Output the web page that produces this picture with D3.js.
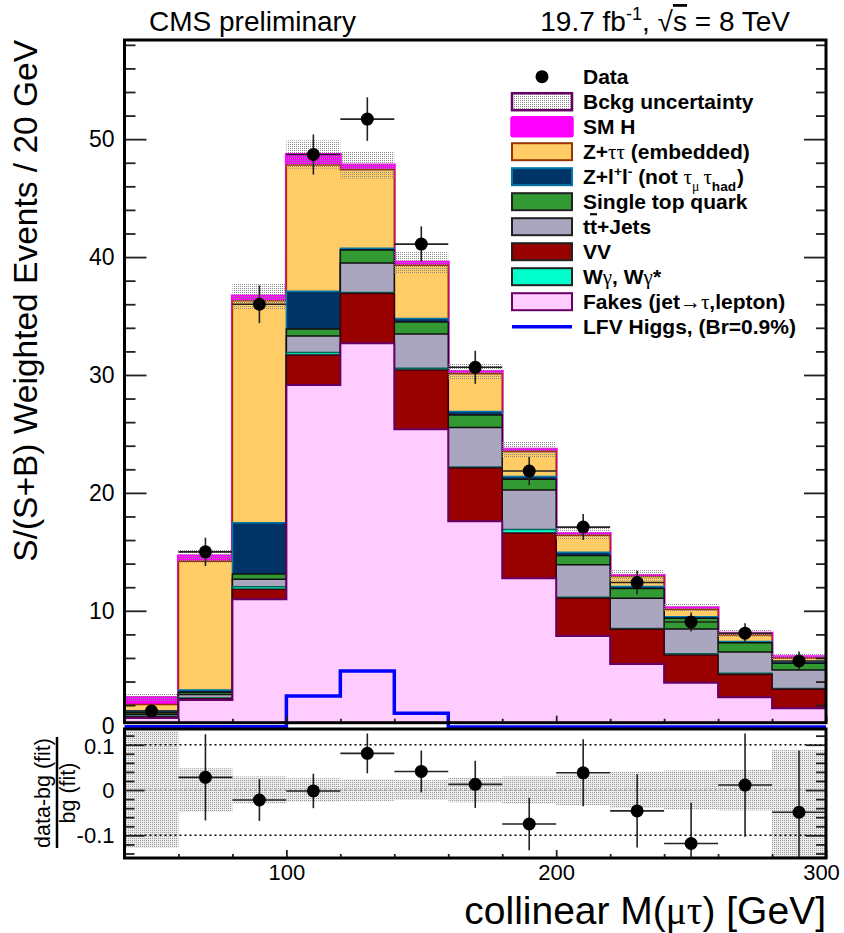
<!DOCTYPE html>
<meta charset="utf-8">
<style>
    body { margin: 0; background: #fff; }
    text { font-family: "Liberation Sans", Arial, Helvetica, sans-serif; fill: #000; }
</style>
<body>
<script src="https://d3js.org/d3.v7.min.js"></script>
<script>

    // bins of collinear M(mu tau), 20 GeV wide
    var binLow = [40, 60, 80, 100, 120, 140, 160, 180, 200, 220, 240, 260, 280];
    var binWidth = 20;

    // stacked backgrounds (per-process contribution, bottom to top)
    var fakes = [0.9, 2.43, 10.97, 29.15, 32.7, 25.4, 17.6, 12.75, 7.86, 5.49, 3.9, 2.66, 1.73];
    var vv    = [0.1, 0.12, 0.85, 2.55, 4.2, 5.02, 4.5, 3.85, 3.2, 2.94, 2.35, 1.94, 1.61];
    var wgam  = [0.05, 0.05, 0.22, 0.2, 0.1, 0.15, 0.1, 0.3, 0.09, 0.07, 0.1, 0.1, 0.08];
    var ttbar = [0.15, 0.3, 0.63, 1.4, 2.5, 2.91, 3.35, 3.35, 2.75, 2.56, 2.1, 1.8, 1.56];
    var stop  = [0.15, 0.2, 0.45, 0.6, 1.1, 1.02, 1.05, 0.9, 0.8, 0.84, 0.91, 0.8, 0.57];
    var zll   = [0.15, 0.18, 4.35, 3.2, 0.15, 0.3, 0.3, 0.25, 0.26, 0.15, 0.14, 0.1, 0.1];
    var ztt   = [0.55, 10.92, 18.83, 10.7, 6.65, 4.5, 3.2, 2.1, 1.44, 0.85, 0.6, 0.55, 0.32];
    var smh   = [0.6, 0.45, 0.4, 0.9, 0.4, 0.25, 0.2, 0.2, 0.15, 0.1, 0.15, 0.15, 0.13];

    var bkgUnc  = [0.3, 0.55, 1.1, 1.2, 1.15, 0.9, 0.7, 0.7, 0.55, 0.45, 0.35, 0.3, 0.25];
    var data    = [1.5, 15.0, 36.0, 48.7, 51.7, 41.1, 30.65, 21.85, 17.1, 12.4, 9.05, 8.1, 5.74];
    var dataErr = [0.5, 1.2, 1.6, 1.7, 1.85, 1.5, 1.4, 1.2, 1.1, 1.0, 0.8, 0.85, 0.8];
    var lfv     = [0.17, 0.17, 0.17, 2.77, 4.9, 1.3, 0.15, 0.15, 0.15, 0.15, 0.15, 0.15, 0.15];

    // ratio panel (data-bg)/bg
    var ratio      = [null, 0.028, -0.022, -0.002, 0.081, 0.041, 0.0125, -0.075, 0.038, -0.046, -0.118, 0.011, -0.049];
    var ratioErr   = [null, 0.095, 0.046, 0.038, 0.044, 0.046, 0.052, 0.058, 0.074, 0.081, 0.09, 0.114, 0.136];
    var ratioBandUp   = [0.13, 0.048, 0.03, 0.026, 0.024, 0.022, 0.027, 0.03, 0.034, 0.04, 0.043, 0.045, 0.088];
    var ratioBandDown = [0.128, 0.048, 0.03, 0.026, 0.024, 0.022, 0.027, 0.03, 0.034, 0.04, 0.043, 0.045, 0.2];

    var yTicks = [0, 10, 20, 30, 40, 50];
    var ratioTicks = [-0.1, 0, 0.1];
    var ratioTickLabels = ['-0.1', '0', '0.1'];
    var xTicks = [100, 200, 300];

    var keys = ['fakes', 'vv', 'wgam', 'ttbar', 'stop', 'zll', 'ztt', 'smh'];
    var series = {fakes: fakes, vv: vv, wgam: wgam, ttbar: ttbar, stop: stop, zll: zll, ztt: ztt, smh: smh};

    var layerStyle = {
        fakes: {fill: '#ffccff', stroke: '#660066', sw: 2},
        vv:    {fill: '#990000', stroke: '#3a0010', sw: 1.5},
        wgam:  {fill: '#00ffcc', stroke: '#006655', sw: 1.5},
        ttbar: {fill: '#aaa6bf', stroke: '#111111', sw: 1.5},
        stop:  {fill: '#339933', stroke: '#111111', sw: 1.5},
        zll:   {fill: '#003366', stroke: '#0077aa', sw: 1.5},
        ztt:   {fill: '#ffcc66', stroke: '#993300', sw: 1.5},
        smh:   {fill: '#ff00ff', stroke: '#ff00ff', sw: 3}
    };

    var width = 844,
        height = 933;

    var svg = d3.select('body').append('svg')
        .attr('width', width)
        .attr('height', height);

    var frameTop = 40, frameBottom = 722.7;
    var x = d3.scaleLinear().domain([40, 300]).range([124.5, 826]);
    var y = d3.scaleLinear().domain([0, 58.41]).range([728.7, frameTop]);
    var yr = d3.scaleLinear().domain([-0.15, 0.1347]).range([858, 729]);

    var defs = svg.append('defs');
    defs.append('clipPath').attr('id', 'clipMain')
        .append('rect').attr('x', x(40)).attr('y', frameTop)
        .attr('width', x(300) - x(40)).attr('height', frameBottom - frameTop);
    defs.append('clipPath').attr('id', 'clipRatio')
        .append('rect').attr('x', x(40)).attr('y', yr.range()[1])
        .attr('width', x(300) - x(40)).attr('height', yr.range()[0] - yr.range()[1]);

    var dots = defs.append('pattern').attr('id', 'dots')
        .attr('width', 2).attr('height', 2).attr('patternUnits', 'userSpaceOnUse');
    dots.append('rect').attr('width', 1).attr('height', 1).attr('fill', '#8a8a8a');

    var dotsGrey = defs.append('pattern').attr('id', 'dotsGrey')
        .attr('width', 2).attr('height', 2).attr('patternUnits', 'userSpaceOnUse');
    dotsGrey.append('rect').attr('width', 2).attr('height', 2).attr('fill', '#ececec');
    dotsGrey.append('rect').attr('width', 1).attr('height', 1).attr('fill', '#999');

    // ---------- main panel ----------
    var rows = binLow.map(function(d, i) {
        var r = {low: d};
        keys.forEach(function(k) { r[k] = series[k][i]; });
        return r;
    });
    var stacked = d3.stack().keys(keys)(rows);

    function stepPath(tops) {
        var pts = [[x(binLow[0]), y(0)]];
        tops.forEach(function(t, i) {
            pts.push([x(binLow[i]), y(t)], [x(binLow[i] + binWidth), y(t)]);
        });
        pts.push([x(binLow[binLow.length - 1] + binWidth), y(0)]);
        return d3.line()(pts) + 'Z';
    }

    var main = svg.append('g').attr('clip-path', 'url(#clipMain)');

    // THStack style: draw the cumulative sums from the largest down
    stacked.slice().reverse().forEach(function(s) {
        var st = layerStyle[s.key];
        main.append('path')
            .attr('d', stepPath(s.map(function(d) { return d[1]; })))
            .attr('fill', st.fill)
            .attr('stroke', st.stroke)
            .attr('stroke-width', st.sw)
            .attr('stroke-linejoin', 'miter');
    });

    var total = stacked[stacked.length - 1].map(function(d) { return d[1]; });

    main.selectAll('rect.unc')
        .data(binLow)
        .enter().append('rect')
        .attr('class', 'unc')
        .attr('x', function(d) { return x(d); })
        .attr('width', x(binWidth + 40) - x(40))
        .attr('y', function(d, i) { return y(total[i] + bkgUnc[i]); })
        .attr('height', function(d, i) { return y(total[i] - bkgUnc[i]) - y(total[i] + bkgUnc[i]); })
        .attr('fill', 'url(#dots)');

    // LFV signal line
    var lfvPts = binLow.map(function(d, i) { return [d, lfv[i]]; });
    lfvPts.push([binLow[binLow.length - 1] + binWidth, lfv[lfv.length - 1]]);
    svg.append('path')
        .attr('d', d3.line().curve(d3.curveStepAfter)
            .x(function(d) { return x(d[0]); })
            .y(function(d) { return y(d[1]); })(lfvPts))
        .attr('fill', 'none')
        .attr('stroke', '#0000ff')
        .attr('stroke-width', 3.5);

    // data points
    var pts = svg.append('g');
    binLow.forEach(function(d, i) {
        var cx = x(d + binWidth / 2), cy = y(data[i]);
        pts.append('line').attr('x1', x(d)).attr('x2', x(d + binWidth)).attr('y1', cy).attr('y2', cy)
            .attr('stroke', '#222').attr('stroke-width', 1.6);
        pts.append('line').attr('x1', cx).attr('x2', cx)
            .attr('y1', y(data[i] - dataErr[i])).attr('y2', y(data[i] + dataErr[i]))
            .attr('stroke', '#222').attr('stroke-width', 1.6);
        pts.append('circle').attr('cx', cx).attr('cy', cy).attr('r', 6.5).attr('fill', '#000');
    });

    // axes main
    function styleAxis(g) {
        g.select('.domain').remove();
        g.selectAll('.tick line').attr('stroke', '#222').attr('stroke-width', 1.8);
        g.selectAll('text').attr('font-family', '"Liberation Sans", Arial, sans-serif');
    }

    var yMinor = y.ticks(30).filter(function(d) { return d > 1 && d % 10 !== 0; });

    svg.append('g').attr('transform', 'translate(' + x(40) + ',0)')
        .call(d3.axisLeft(y).tickValues(yTicks).tickSize(-22).tickPadding(10).tickFormat(d3.format('d')))
        .call(styleAxis)
        .call(function(g) { g.selectAll('.tick line').filter(function(d) { return d === 0; }).remove(); })
        .selectAll('text').attr('font-size', 23)
        .attr('dy', function(d) { return d === 0 ? '0.22em' : '0.32em'; });
    svg.append('g').attr('transform', 'translate(' + x(40) + ',0)')
        .call(d3.axisLeft(y).tickValues(yMinor).tickSize(-11).tickFormat(''))
        .call(styleAxis);
    svg.append('g').attr('transform', 'translate(' + x(300) + ',0)')
        .call(d3.axisRight(y).tickValues(yTicks.slice(1)).tickSize(-22).tickFormat(''))
        .call(styleAxis);
    svg.append('g').attr('transform', 'translate(' + x(300) + ',0)')
        .call(d3.axisRight(y).tickValues(yMinor).tickSize(-10).tickFormat(''))
        .call(styleAxis);

    var xMinor = binLow.concat([300]).filter(function(d) { return d % 100 !== 0; });
    svg.append('g').attr('transform', 'translate(0,' + frameBottom + ')')
        .call(d3.axisBottom(x).tickValues(xTicks).tickSize(-7).tickFormat(''))
        .call(styleAxis);
    svg.append('g').attr('transform', 'translate(0,' + frameBottom + ')')
        .call(d3.axisBottom(x).tickValues(xMinor).tickSize(-4).tickFormat(''))
        .call(styleAxis);

    svg.append('rect')
        .attr('x', x(40)).attr('y', frameTop)
        .attr('width', x(300) - x(40)).attr('height', frameBottom - frameTop)
        .attr('fill', 'none').attr('stroke', '#000').attr('stroke-width', 3);

    // ---------- ratio panel ----------
    var rp = svg.append('g').attr('clip-path', 'url(#clipRatio)');

    rp.append('rect')
        .attr('x', x(40)).attr('y', yr.range()[1])
        .attr('width', x(300) - x(40)).attr('height', yr.range()[0] - yr.range()[1])
        .attr('fill', '#fff');

    rp.selectAll('rect.band')
        .data(binLow)
        .enter().append('rect')
        .attr('class', 'band')
        .attr('x', function(d) { return x(d); })
        .attr('width', x(binWidth + 40) - x(40))
        .attr('y', function(d, i) { return yr(ratioBandUp[i]); })
        .attr('height', function(d, i) { return yr(-ratioBandDown[i]) - yr(ratioBandUp[i]); })
        .attr('fill', 'url(#dotsGrey)');

    rp.selectAll('line.ref')
        .data(ratioTicks)
        .enter().append('line')
        .attr('class', 'ref')
        .attr('x1', x(40)).attr('x2', x(300))
        .attr('y1', function(d) { return yr(d); }).attr('y2', function(d) { return yr(d); })
        .attr('stroke', function(d) { return d === 0 ? '#999' : '#000'; })
        .attr('stroke-width', 1.5)
        .attr('stroke-dasharray', '2,3');

    binLow.forEach(function(d, i) {
        if (ratio[i] === null) return;
        var cx = x(d + binWidth / 2), cy = yr(ratio[i]);
        rp.append('line').attr('x1', x(d)).attr('x2', x(d + binWidth)).attr('y1', cy).attr('y2', cy)
            .attr('stroke', '#222').attr('stroke-width', 1.6);
        rp.append('line').attr('x1', cx).attr('x2', cx)
            .attr('y1', yr(ratio[i] - ratioErr[i])).attr('y2', yr(ratio[i] + ratioErr[i]))
            .attr('stroke', '#222').attr('stroke-width', 1.6);
        rp.append('circle').attr('cx', cx).attr('cy', cy).attr('r', 6.5).attr('fill', '#000');
    });

    var rMinor = yr.ticks(15).filter(function(d) { return Math.abs(Math.round(d * 10) - d * 10) > 1e-6; });

    svg.append('g').attr('transform', 'translate(' + x(40) + ',0)')
        .call(d3.axisLeft(yr).tickValues(ratioTicks).tickSize(-20).tickPadding(10)
            .tickFormat(function(d, i) { return ratioTickLabels[i]; }))
        .call(styleAxis)
        .selectAll('text').attr('font-size', 22)
        .attr('dy', function(d) { return d === 0.1 ? '0.42em' : '0.32em'; });
    svg.append('g').attr('transform', 'translate(' + x(40) + ',0)')
        .call(d3.axisLeft(yr).tickValues(rMinor).tickSize(-10).tickFormat(''))
        .call(styleAxis);
    svg.append('g').attr('transform', 'translate(' + x(300) + ',0)')
        .call(d3.axisRight(yr).tickValues(ratioTicks).tickSize(-20).tickFormat(''))
        .call(styleAxis);
    svg.append('g').attr('transform', 'translate(' + x(300) + ',0)')
        .call(d3.axisRight(yr).tickValues(rMinor).tickSize(-10).tickFormat(''))
        .call(styleAxis);

    svg.append('g').attr('transform', 'translate(0,' + yr.range()[0] + ')')
        .call(d3.axisBottom(x).tickValues(xTicks).tickSize(-8).tickPadding(6).tickFormat(d3.format('d')))
        .call(styleAxis)
        .selectAll('text').attr('font-size', 22)
        .attr('dx', function(d) { return d === 300 ? -5 : 0; });
    svg.append('g').attr('transform', 'translate(0,' + yr.range()[0] + ')')
        .call(d3.axisBottom(x).tickValues(xMinor).tickSize(-4).tickFormat(''))
        .call(styleAxis);

    svg.append('rect')
        .attr('x', x(40)).attr('y', yr.range()[1])
        .attr('width', x(300) - x(40)).attr('height', yr.range()[0] - yr.range()[1])
        .attr('fill', 'none').attr('stroke', '#000').attr('stroke-width', 3);

    // ---------- rich text helper ----------
    var greekFont = '"Liberation Serif", "DejaVu Serif", serif';
    function richText(t, parts, size) {
        var off = 0;
        parts.forEach(function(p) {
            var kind = p[1] || 'n';
            var target = 0, fs = size, ts = t.append('tspan');
            if (kind === 'sup') { target = -size * 0.38; fs = size * 0.65; }
            if (kind === 'sub' || kind === 'gsub') { target = size * 0.3; fs = size * 0.65; }
            if (kind === 'g' || kind === 'gsub') ts.attr('font-family', greekFont).attr('font-weight', 'normal');
            if (kind === 'ov') ts.style('text-decoration', 'overline');
            if (p[2]) ts.attr('dx', p[2]);
            ts.attr('dy', target - off).attr('font-size', fs).text(p[0]);
            off = target;
        });
        if (off !== 0) t.append('tspan').attr('dy', -off).text('');
    }

    // header
    svg.append('text').attr('x', 149).attr('y', 31).attr('font-size', 28).text('CMS preliminary');
    var lumi = svg.append('text').attr('x', 790).attr('y', 31).attr('text-anchor', 'end').attr('font-size', 28);
    richText(lumi, [['19.7 fb'], ['-1', 'sup'], [', \u221A'], ['s', 'ov'], [' = 8 TeV']], 28);

    // axis titles
    svg.append('text')
        .attr('transform', 'translate(37,40) rotate(-90)')
        .attr('text-anchor', 'end')
        .attr('font-size', 33.5)
        .text('S/(S+B) Weighted Events / 20 GeV');

    var xt = svg.append('text').attr('x', 826).attr('y', 924).attr('text-anchor', 'end').attr('font-size', 39);
    richText(xt, [['collinear M('], ['\u03BC\u03C4', 'g'], [') [GeV]']], 39);

    var ratioMid = 793;
    svg.append('text').attr('transform', 'translate(50,' + ratioMid + ') rotate(-90)')
        .attr('text-anchor', 'middle').attr('font-size', 21.5).text('data-bg (fit)');
    svg.append('line').attr('x1', 57).attr('x2', 57).attr('y1', 737).attr('y2', 848)
        .attr('stroke', '#000').attr('stroke-width', 2.5);
    svg.append('text').attr('transform', 'translate(75,' + ratioMid + ') rotate(-90)')
        .attr('text-anchor', 'middle').attr('font-size', 21.5).text('bg (fit)');

    // ---------- legend ----------
    var legendLabels = [
        [['Data']],
        [['Bckg uncertainty']],
        [['SM H']],
        [['Z+'], ['\u03C4\u03C4', 'g'], [' (embedded)']],
        [['Z+l'], ['+', 'sup'], ['l'], ['-', 'sup'], [' (not '], ['\u03C4', 'g'], ['\u03BC', 'gsub'], ['\u03C4', 'g', 4], ['had', 'sub'], [')', 'n', 1]],
        [['Single top quark']],
        [['t'], ['t', 'ov'], ['+Jets']],
        [['VV']],
        [['W'], ['\u03B3', 'g'], [', W'], ['\u03B3', 'g'], ['*']],
        [['Fakes (jet'], ['\u2192', 'g'], ['\u03C4', 'g'], [',lepton)']],
        [['LFV Higgs, (Br=0.9%)']]
    ];
    var legendKind = ['data', 'unc', 'smh', 'ztt', 'zll', 'stop', 'ttbar', 'vv', 'wgam', 'fakes', 'lfv'];

    var leg = svg.append('g');
    legendLabels.forEach(function(lab, i) {
        var ly = 76.7 + i * 25;
        var kind = legendKind[i];
        if (kind === 'data') {
            leg.append('circle').attr('cx', 542).attr('cy', ly).attr('r', 6.5).attr('fill', '#000');
        } else if (kind === 'lfv') {
            leg.append('line').attr('x1', 512).attr('x2', 572).attr('y1', ly).attr('y2', ly)
                .attr('stroke', '#0000ff').attr('stroke-width', 3.5);
        } else if (kind === 'unc') {
            leg.append('rect').attr('x', 512).attr('y', ly - 8.5).attr('width', 60).attr('height', 17)
                .attr('fill', 'url(#dots)').attr('stroke', '#660066').attr('stroke-width', 2.5);
        } else if (kind === 'smh') {
            leg.append('rect').attr('x', 511).attr('y', ly - 10).attr('width', 62).attr('height', 20).attr('rx', 2)
                .attr('fill', '#ff00ff').attr('stroke', '#ff00ff').attr('stroke-width', 1.5);
        } else {
            var st = layerStyle[kind];
            leg.append('rect').attr('x', 512).attr('y', ly - 8.5).attr('width', 60).attr('height', 17)
                .attr('fill', st.fill).attr('stroke', kind === 'ztt' ? '#993300' : (kind === 'zll' ? '#0077aa' : (kind === 'fakes' ? '#660066' : '#222')))
                .attr('stroke-width', 2);
        }
        var t = leg.append('text').attr('x', 583).attr('y', ly + 7.5)
            .attr('font-size', 21).attr('font-weight', 'bold');
        richText(t, lab, 21);
    });

</script>
